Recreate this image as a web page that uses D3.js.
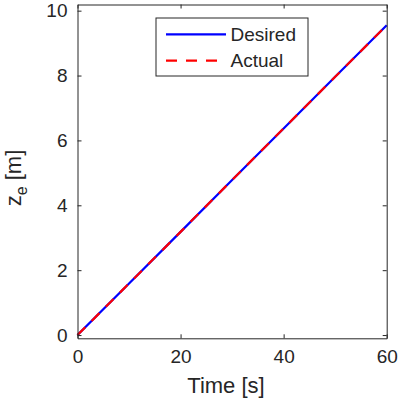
<!DOCTYPE html>
<html>
<head>
<meta charset="utf-8">
<script src="https://cdn.jsdelivr.net/npm/d3@7"></script>
<style>
  body { margin: 0; background: #fff; }
  text { font-family: "Liberation Sans", Arial, sans-serif; fill: #262626; }
</style>
</head>
<body>
<svg class="chart"></svg>
<script>
// data
var time = [0, 10, 20, 30, 40, 50, 60];
var desired = [0, 1.59, 3.18, 4.78, 6.37, 7.96, 9.55];
var actual = [0, 1.59, 3.18, 4.78, 6.37, 7.96, 9.55];
var xTicks = [0, 20, 40, 60];
var yTicks = [0, 2, 4, 6, 8, 10];
var seriesNames = ["Desired", "Actual"];

var W = 399, H = 404;
var margin = {top: 4.5, right: 12.3, bottom: 65.7, left: 77.5},
    width = W - margin.left - margin.right,
    height = H - margin.top - margin.bottom;

var x = d3.scaleLinear().domain([0, 60]).range([0, width]);
var y = d3.scaleLinear().domain([-0.1, 10.19]).range([height, 0]);

var svg = d3.select(".chart")
    .attr("width", W)
    .attr("height", H);

var chart = svg.append("g")
    .attr("transform", "translate(" + margin.left + "," + margin.top + ")");

// lines
var line = d3.line()
    .x(function(d) { return x(d[0]); })
    .y(function(d) { return y(d[1]); });

chart.append("path")
    .datum(d3.zip(time, desired))
    .attr("d", line)
    .attr("fill", "none")
    .attr("stroke", "#0000ff")
    .attr("stroke-width", 2.2);

chart.append("path")
    .datum(d3.zip(time, actual))
    .attr("d", line)
    .attr("fill", "none")
    .attr("stroke", "#ff0000")
    .attr("stroke-width", 2.2)
    .attr("stroke-dasharray", "11,9");

// axes (MATLAB style: inward ticks, boxed)
var tk = 4;
function styleAxis(g) {
  g.select(".domain").attr("stroke", "#262626");
  g.selectAll(".tick line").attr("stroke", "#262626");
  g.selectAll("text").attr("fill", "#262626")
    .style("font-family", "Liberation Sans, Arial, sans-serif")
    .style("font-size", "19px");
}

chart.append("g")
    .attr("transform", "translate(0," + height + ")")
    .call(d3.axisBottom(x).tickValues(xTicks).tickSizeInner(-tk).tickSizeOuter(0).tickPadding(11))
    .call(styleAxis);

chart.append("g")
    .call(d3.axisLeft(y).tickValues(yTicks).tickSizeInner(-tk).tickSizeOuter(0).tickPadding(10))
    .call(styleAxis);

chart.append("g")
    .call(d3.axisTop(x).tickValues(xTicks).tickSizeInner(-tk).tickSizeOuter(0).tickFormat(""))
    .call(styleAxis);

chart.append("g")
    .attr("transform", "translate(" + width + ",0)")
    .call(d3.axisRight(y).tickValues(yTicks).tickSizeInner(-tk).tickSizeOuter(0).tickFormat(""))
    .call(styleAxis);

// axis labels
svg.append("text")
    .attr("x", 226)
    .attr("y", 393)
    .attr("text-anchor", "middle")
    .style("font-size", "22px")
    .text("Time [s]");

var yl = svg.append("text")
    .attr("transform", "translate(21,178) rotate(-90)")
    .attr("text-anchor", "middle")
    .style("font-size", "22px");
yl.append("tspan").text("z");
yl.append("tspan").attr("dy", 6).style("font-size", "16px").text("e");
yl.append("tspan").attr("dy", -6).text(" [m]");

// legend
var leg = svg.append("g").attr("transform", "translate(156,18)");
leg.append("rect")
    .attr("width", 152)
    .attr("height", 58)
    .attr("fill", "#fff")
    .attr("stroke", "#262626")
    .attr("stroke-width", 1);

var rows = leg.selectAll(".row")
    .data(seriesNames)
  .enter().append("g")
    .attr("transform", function(d, i) { return "translate(0," + (16.3 + i * 26.4) + ")"; });

rows.append("line")
    .attr("x1", 10).attr("x2", 70)
    .attr("stroke", function(d, i) { return i ? "#ff0000" : "#0000ff"; })
    .attr("stroke-width", 2.2)
    .attr("stroke-dasharray", function(d, i) { return i ? "11,9" : null; });

rows.append("text")
    .attr("x", 74.5)
    .attr("dy", "0.35em")
    .style("font-size", "19px")
    .text(function(d) { return d; });
</script>
</body>
</html>
